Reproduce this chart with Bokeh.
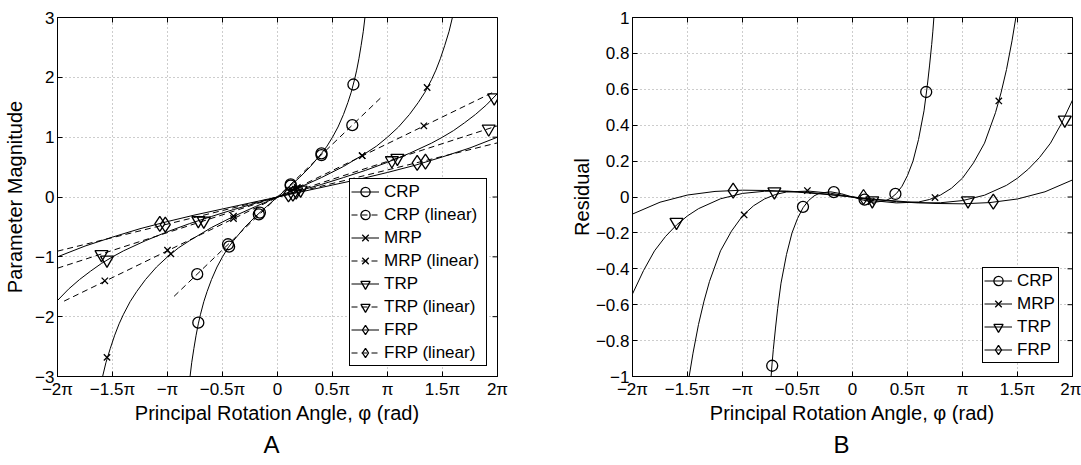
import math
from bokeh.plotting import figure
from bokeh.layouts import row
from bokeh.models import FixedTicker, Legend, LegendItem, Title, Range1d
from bokeh.embed import file_html
from bokeh.resources import INLINE

FONT = "Liberation Sans"

# ---------------- axis ticks ----------------
x_ticks = [-2, -1.5, -1, -0.5, 0, 0.5, 1, 1.5, 2]          # in units of pi
x_tick_labels = ["−2π", "−1.5π", "−π", "−0.5π", "0", "0.5π", "π", "1.5π", "2π"]
yA_ticks = [-3, -2, -1, 0, 1, 2, 3]
yA_tick_labels = ["−3", "−2", "−1", "0", "1", "2", "3"]
yB_ticks = [-1, -0.8, -0.6, -0.4, -0.2, 0, 0.2, 0.4, 0.6, 0.8, 1]
yB_tick_labels = ["−1", "−0.8", "−0.6", "−0.4", "−0.2", "0", "0.2", "0.4", "0.6", "0.8", "1"]

# ---------------- panel A: parameter magnitude (phi in units of pi) ----------------
crp_phi = [-0.795, -0.78, -0.76, -0.74, -0.72, -0.70, -0.67, -0.64, -0.60, -0.55, -0.50, -0.45, -0.40, -0.30, -0.20, -0.10,
           0.0, 0.10, 0.20, 0.30, 0.40, 0.45, 0.50, 0.55, 0.60, 0.64, 0.67, 0.70, 0.72, 0.74, 0.76, 0.78, 0.795]
crp_val = [-3.00, -2.77, -2.53, -2.31, -2.12, -1.96, -1.75, -1.58, -1.38, -1.17, -1.00, -0.85, -0.73, -0.51, -0.325, -0.16,
           0.0, 0.16, 0.325, 0.51, 0.73, 0.85, 1.00, 1.17, 1.38, 1.58, 1.75, 1.96, 2.12, 2.31, 2.53, 2.77, 3.00]
mrp_phi = [-1.59, -1.56, -1.52, -1.48, -1.44, -1.40, -1.34, -1.28, -1.20, -1.10, -1.00, -0.90, -0.80, -0.60, -0.40, -0.20,
           0.0, 0.20, 0.40, 0.60, 0.80, 0.90, 1.00, 1.10, 1.20, 1.28, 1.34, 1.40, 1.44, 1.48, 1.52, 1.56, 1.59]
mrp_val = [-3.00, -2.77, -2.53, -2.31, -2.12, -1.96, -1.75, -1.58, -1.38, -1.17, -1.00, -0.85, -0.73, -0.51, -0.325, -0.16,
           0.0, 0.16, 0.325, 0.51, 0.73, 0.85, 1.00, 1.17, 1.38, 1.58, 1.75, 1.96, 2.12, 2.31, 2.53, 2.77, 3.00]
trp_phi = [-2.0, -1.9, -1.8, -1.7, -1.6, -1.5, -1.4, -1.2, -1.0, -0.8, -0.6, -0.4, -0.2,
           0.0, 0.2, 0.4, 0.6, 0.8, 1.0, 1.2, 1.4, 1.5, 1.6, 1.7, 1.8, 1.9, 2.0]
trp_val = [-1.73, -1.54, -1.38, -1.24, -1.11, -1.00, -0.90, -0.73, -0.58, -0.445, -0.325, -0.21, -0.105,
           0.0, 0.105, 0.21, 0.325, 0.445, 0.58, 0.73, 0.90, 1.00, 1.11, 1.24, 1.38, 1.54, 1.73]
frp_phi = [-2.0, -1.75, -1.5, -1.25, -1.0, -0.75, -0.5, -0.25, 0.0, 0.25, 0.5, 0.75, 1.0, 1.25, 1.5, 1.75, 2.0]
frp_val = [-1.00, -0.82, -0.67, -0.53, -0.41, -0.30, -0.20, -0.10, 0.0, 0.10, 0.20, 0.30, 0.41, 0.53, 0.67, 0.82, 1.00]

crp_lin_phi = [-0.94, 0.94]
crp_lin_val = [-1.66, 1.66]
mrp_lin_phi = [-1.94, 1.96]
mrp_lin_val = [-1.74, 1.75]
trp_lin_phi = [-2.0, 2.0]
trp_lin_val = [-1.19, 1.19]
frp_lin_phi = [-2.0, 2.0]
frp_lin_val = [-0.905, 0.905]

crp_mk_phi = [-0.72, -0.44, -0.16, 0.12, 0.40, 0.69]
crp_mk_val = [-2.10, -0.83, -0.26, 0.19, 0.73, 1.88]
crp_lin_mk_phi = [-0.73, -0.45, -0.17, 0.12, 0.40, 0.68]
crp_lin_mk_val = [-1.29, -0.79, -0.29, 0.21, 0.70, 1.20]
mrp_mk_phi = [-1.55, -0.97, -0.40, 0.18, 0.77, 1.36]
mrp_mk_val = [-2.68, -0.95, -0.32, 0.14, 0.69, 1.83]
mrp_lin_mk_phi = [-1.57, -1.00, -0.40, 0.18, 0.77, 1.33]
mrp_lin_mk_val = [-1.40, -0.89, -0.36, 0.16, 0.69, 1.19]
trp_mk_phi = [-1.55, -0.72, 0.17, 1.04, 1.97]
trp_mk_val = [-1.05, -0.39, 0.09, 0.61, 1.66]
trp_lin_mk_phi = [-1.60, -0.67, 0.21, 1.09, 1.92]
trp_lin_mk_val = [-0.96, -0.40, 0.12, 0.65, 1.14]
frp_mk_phi = [-1.07, 0.14, 1.345]
frp_mk_val = [-0.45, 0.055, 0.59]
frp_lin_mk_phi = [-1.02, 0.10, 1.27]
frp_lin_mk_val = [-0.46, 0.045, 0.57]

# ---------------- panel B: residuals ----------------
crp_res_phi = [-0.74, -0.73, -0.72, -0.70, -0.68, -0.65, -0.60, -0.55, -0.50, -0.45, -0.40, -0.35, -0.30, -0.20, -0.10,
               0.0, 0.10, 0.20, 0.30, 0.35, 0.40, 0.45, 0.50, 0.55, 0.60, 0.65, 0.68, 0.70, 0.72, 0.73, 0.74]
crp_res_val = [-1.00, -0.92, -0.85, -0.73, -0.62, -0.48, -0.32, -0.20, -0.12, -0.06, -0.02, 0.006, 0.021, 0.029, 0.018,
               0.0, -0.018, -0.029, -0.021, -0.006, 0.02, 0.06, 0.12, 0.20, 0.32, 0.48, 0.62, 0.73, 0.85, 0.92, 1.00]
mrp_res_phi = [-1.485, -1.45, -1.40, -1.35, -1.30, -1.20, -1.10, -1.00, -0.90, -0.80, -0.70, -0.60, -0.40, -0.20,
               0.0, 0.20, 0.40, 0.60, 0.70, 0.80, 0.90, 1.00, 1.10, 1.20, 1.30, 1.35, 1.40, 1.45, 1.485]
mrp_res_val = [-1.00, -0.87, -0.71, -0.58, -0.47, -0.30, -0.19, -0.105, -0.049, -0.011, 0.014, 0.028, 0.033, 0.021,
               0.0, -0.021, -0.033, -0.028, -0.014, 0.011, 0.049, 0.105, 0.19, 0.30, 0.47, 0.58, 0.71, 0.87, 1.00]
trp_res_phi = [-2.0, -1.9, -1.8, -1.7, -1.6, -1.5, -1.4, -1.2, -1.0, -0.8, -0.6, -0.4, -0.2,
               0.0, 0.2, 0.4, 0.6, 0.8, 1.0, 1.2, 1.4, 1.5, 1.6, 1.7, 1.8, 1.9, 2.0]
trp_res_val = [-0.54, -0.41, -0.30, -0.22, -0.156, -0.105, -0.065, -0.010, 0.020, 0.032, 0.033, 0.026, 0.014,
               0.0, -0.014, -0.026, -0.033, -0.032, -0.020, 0.010, 0.065, 0.105, 0.156, 0.22, 0.30, 0.41, 0.54]
frp_res_phi = [-2.0, -1.75, -1.5, -1.25, -1.0, -0.75, -0.5, -0.25, 0.0, 0.25, 0.5, 0.75, 1.0, 1.25, 1.5, 1.75, 2.0]
frp_res_val = [-0.095, -0.029, 0.011, 0.031, 0.038, 0.036, 0.027, 0.015, 0.0, -0.015, -0.027, -0.036, -0.038,
               -0.031, -0.011, 0.029, 0.095]

crp_res_mk_phi = [-0.73, -0.45, -0.17, 0.11, 0.39, 0.67]
crp_res_mk_val = [-0.94, -0.055, 0.027, -0.015, 0.017, 0.585]
mrp_res_mk_phi = [-0.985, -0.41, 0.17, 0.75, 1.33]
mrp_res_mk_val = [-0.10, 0.036, -0.025, -0.003, 0.535]
trp_res_mk_phi = [-1.6, -0.71, 0.18, 1.05, 1.93]
trp_res_mk_val = [-0.14, 0.03, -0.02, -0.02, 0.43]
frp_res_mk_phi = [-1.085, 0.10, 1.28]
frp_res_mk_val = [0.035, 0.0, -0.026]

# ---------------- styles ----------------
MARK = {"CRP": ("circle", 11), "MRP": ("x", 9), "TRP": ("inverted_triangle", 13), "FRP": ("diamond", 15)}
DASH = "6 4"


def make_panel(width, bl, br, yr, yticks, ylabels, ylab, ylab_standoff, letter, letter_offset):
    p = figure(width=width, height=465, x_range=Range1d(-2, 2), y_range=Range1d(*yr),
               output_backend="svg", toolbar_location=None,
               min_border_left=bl, min_border_right=br, min_border_top=17, min_border_bottom=89,
               background_fill_color="white", border_fill_color="white")
    p.outline_line_color = "black"
    p.outline_line_width = 1
    for ax, ticks, labels in ((p.xaxis[0], x_ticks, x_tick_labels), (p.yaxis[0], yticks, ylabels)):
        ax.ticker = FixedTicker(ticks=ticks)
        ax.major_label_overrides = dict(zip(ticks, labels))
        ax.major_tick_in = 5
        ax.major_tick_out = 0
        ax.minor_tick_in = 0
        ax.minor_tick_out = 0
        ax.major_label_text_font = FONT
        ax.major_label_text_font_size = "17px"
        ax.major_label_text_color = "black"
        ax.axis_line_color = "black"
        ax.major_tick_line_color = "black"
        ax.axis_label_text_font = FONT
        ax.axis_label_text_font_size = "20px"
        ax.axis_label_text_font_style = "normal"
        ax.axis_label_text_color = "black"
        ax.major_label_standoff = 3
    p.xaxis[0].axis_label = "Principal Rotation Angle, φ (rad)"
    p.yaxis[0].axis_label = ylab
    p.xaxis[0].axis_label_standoff = 0
    p.yaxis[0].axis_label_standoff = ylab_standoff
    p.xgrid.ticker = FixedTicker(ticks=x_ticks)
    p.ygrid.ticker = FixedTicker(ticks=yticks)
    for g in (p.xgrid, p.ygrid):
        g.grid_line_color = "#9a9a9a"
        g.grid_line_dash = "1 3"
        g.grid_line_width = 1
    # inward tick marks on the top and right frame edges (half of each dash is clipped away)
    p.scatter(x_ticks, [yr[1]] * len(x_ticks), marker="dash", size=10, angle=math.pi / 2,
              line_color="black", line_width=1)
    p.scatter([2] * len(yticks), yticks, marker="dash", size=10, angle=0,
              line_color="black", line_width=1)
    p.add_layout(Title(text=letter, align="left", offset=letter_offset, standoff=4,
                       text_font=FONT, text_font_size="24px", text_font_style="normal",
                       text_color="black"), "below")
    return p


def series(p, phi, val, mphi, mval, name, dashed=False):
    mk, sz = MARK[name]
    lr = p.line(phi, val, line_color="black", line_width=1, line_dash=DASH if dashed else "solid")
    sr = p.scatter(mphi, mval, marker=mk, size=sz, fill_color=None, line_color="black", line_width=1.3)
    return [lr, sr]


# ---------------- panel A ----------------
pA = make_panel(537, 57, 40, (-3, 3), yA_ticks, yA_tick_labels, "Parameter Magnitude", 6, "A", 206)
itemsA = [
    LegendItem(label="CRP", renderers=series(pA, crp_phi, crp_val, crp_mk_phi, crp_mk_val, "CRP")),
    LegendItem(label="CRP (linear)", renderers=series(pA, crp_lin_phi, crp_lin_val, crp_lin_mk_phi, crp_lin_mk_val, "CRP", True)),
    LegendItem(label="MRP", renderers=series(pA, mrp_phi, mrp_val, mrp_mk_phi, mrp_mk_val, "MRP")),
    LegendItem(label="MRP (linear)", renderers=series(pA, mrp_lin_phi, mrp_lin_val, mrp_lin_mk_phi, mrp_lin_mk_val, "MRP", True)),
    LegendItem(label="TRP", renderers=series(pA, trp_phi, trp_val, trp_mk_phi, trp_mk_val, "TRP")),
    LegendItem(label="TRP (linear)", renderers=series(pA, trp_lin_phi, trp_lin_val, trp_lin_mk_phi, trp_lin_mk_val, "TRP", True)),
    LegendItem(label="FRP", renderers=series(pA, frp_phi, frp_val, frp_mk_phi, frp_mk_val, "FRP")),
    LegendItem(label="FRP (linear)", renderers=series(pA, frp_lin_phi, frp_lin_val, frp_lin_mk_phi, frp_lin_mk_val, "FRP", True)),
]

# ---------------- panel B ----------------
pB = make_panel(544, 95, 9, (-1, 1), yB_ticks, yB_tick_labels, "Residual", 0, "B", 201)
itemsB = [
    LegendItem(label="CRP", renderers=series(pB, crp_res_phi, crp_res_val, crp_res_mk_phi, crp_res_mk_val, "CRP")),
    LegendItem(label="MRP", renderers=series(pB, mrp_res_phi, mrp_res_val, mrp_res_mk_phi, mrp_res_mk_val, "MRP")),
    LegendItem(label="TRP", renderers=series(pB, trp_res_phi, trp_res_val, trp_res_mk_phi, trp_res_mk_val, "TRP")),
    LegendItem(label="FRP", renderers=series(pB, frp_res_phi, frp_res_val, frp_res_mk_phi, frp_res_mk_val, "FRP")),
]

for p, items, margin, lw in ((pA, itemsA, 10, 101), (pB, itemsB, 13, 40)):
    leg = Legend(items=items, location="bottom_right", margin=margin, padding=1, spacing=0,
                 glyph_width=28, glyph_height=23, label_height=23, label_width=lw, label_standoff=5,
                 label_text_font=FONT, label_text_font_size="17px", label_text_color="black",
                 border_line_color="black", border_line_width=1, border_line_alpha=1,
                 background_fill_color="white", background_fill_alpha=1)
    p.add_layout(leg)

layout = row(pA, pB)
open("out.html", "w").write(file_html(layout, INLINE))
